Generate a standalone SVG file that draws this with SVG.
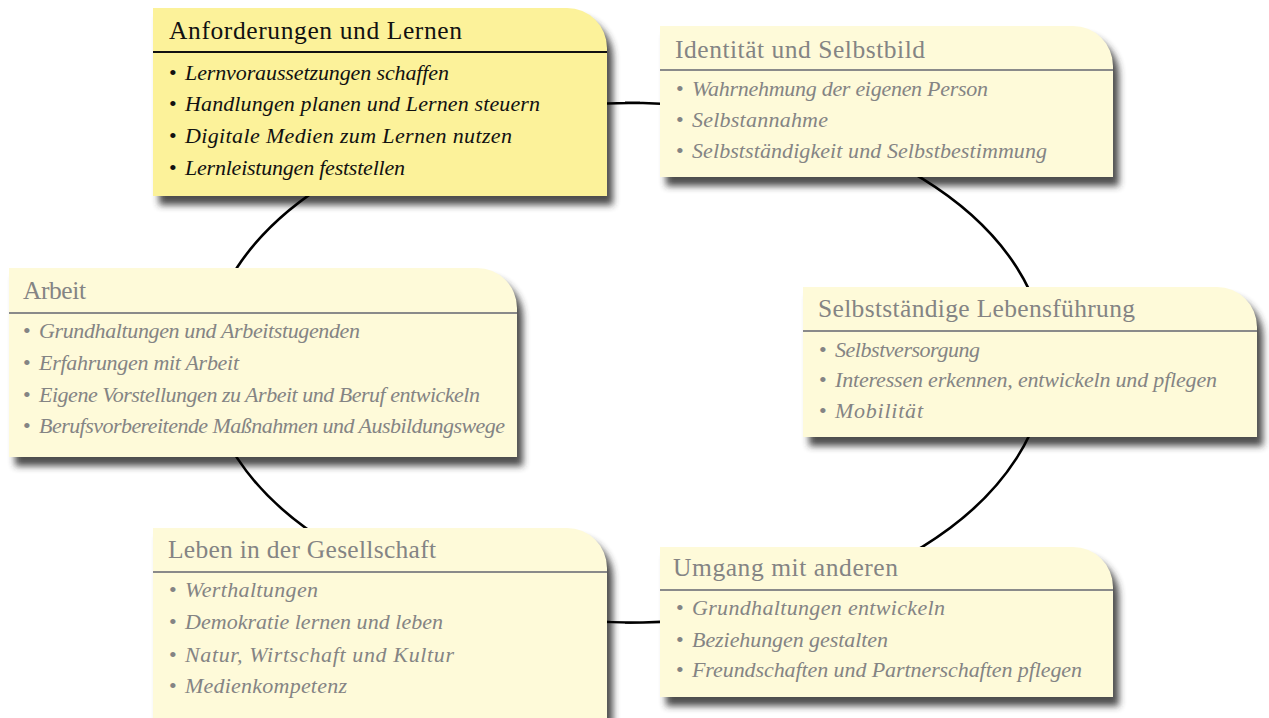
<svg xmlns="http://www.w3.org/2000/svg" width="1269" height="718" viewBox="0 0 1269 718">
<defs>
<filter id="blur" x="-10%" y="-20%" width="120%" height="140%">
<feGaussianBlur stdDeviation="3.5"/>
</filter>
<style>
.sh{fill:#2e2e2e;opacity:0.85;filter:url(#blur)}
.hot{fill:#fcf29a}
.cool{fill:#fefad9}
.title{font-family:"Liberation Serif","Times New Roman",serif;font-size:25.5px}
.item{font-family:"Liberation Serif","Times New Roman",serif;font-size:22px;font-style:italic}
.bul{font-family:"Liberation Serif","Times New Roman",serif;font-size:22px}
.dark{fill:#111}
.dim{fill:#848484}
.hlk{stroke:#111;stroke-width:2}
.hlg{stroke:#8a8a8a;stroke-width:2}
.conn{fill:none;stroke:#000;stroke-width:2.6}
</style>
</defs>
<rect width="1269" height="718" fill="#fff"/>
<g id="shadows">
<path class="sh" d="M159,17 H573 A40 40 0 0 1 613,57 V205 H159 Z"/>
<path class="sh" d="M666,35 H1079 A40 40 0 0 1 1119,75 V186 H666 Z"/>
<path class="sh" d="M15,277 H483 A40 40 0 0 1 523,317 V466 H15 Z"/>
<path class="sh" d="M809,296 H1223 A40 40 0 0 1 1263,336 V446 H809 Z"/>
<path class="sh" d="M159,537 H573 A40 40 0 0 1 613,577 V730 H159 Z"/>
<path class="sh" d="M666,556 H1079 A40 40 0 0 1 1119,596 V706 H666 Z"/>
</g>
<g id="connectors">
<path class="conn" d="M640,102.7 A433,260 0 0 0 640,622.7 L625,622.7 A421,260 0 0 0 625,102.7 Z"/>
</g>
<g id="node-anforderungen">
<path class="hot" d="M153,8 H567 A40 40 0 0 1 607,48 V196 H153 Z"/>
<line class="hlk" x1="153" y1="52" x2="607" y2="52"/>
<text class="title dark" x="169" y="39" textLength="293">Anforderungen und Lernen</text>
<text class="bul dark" x="169" y="80">•</text>
<text class="item dark" x="185" y="80" textLength="264">Lernvoraussetzungen schaffen</text>
<text class="bul dark" x="169" y="111">•</text>
<text class="item dark" x="185" y="111" textLength="355">Handlungen planen und Lernen steuern</text>
<text class="bul dark" x="169" y="143">•</text>
<text class="item dark" x="185" y="143" textLength="327">Digitale Medien zum Lernen nutzen</text>
<text class="bul dark" x="169" y="175">•</text>
<text class="item dark" x="185" y="175" textLength="220">Lernleistungen feststellen</text>
</g>
<g id="node-identitaet">
<path class="cool" d="M660,26 H1073 A40 40 0 0 1 1113,66 V177 H660 Z"/>
<line class="hlg" x1="660" y1="70" x2="1113" y2="70"/>
<text class="title dim" x="675" y="58" textLength="250">Identität und Selbstbild</text>
<text class="bul dim" x="676" y="96">•</text>
<text class="item dim" x="692" y="96" textLength="296">Wahrnehmung der eigenen Person</text>
<text class="bul dim" x="676" y="127">•</text>
<text class="item dim" x="692" y="127" textLength="136">Selbstannahme</text>
<text class="bul dim" x="676" y="158">•</text>
<text class="item dim" x="692" y="158" textLength="355">Selbstständigkeit und Selbstbestimmung</text>
</g>
<g id="node-arbeit">
<path class="cool" d="M9,268 H477 A40 40 0 0 1 517,308 V457 H9 Z"/>
<line class="hlg" x1="9" y1="313" x2="517" y2="313"/>
<text class="title dim" x="23" y="299" textLength="63">Arbeit</text>
<text class="bul dim" x="23" y="338">•</text>
<text class="item dim" x="39" y="338" textLength="321">Grundhaltungen und Arbeitstugenden</text>
<text class="bul dim" x="23" y="370">•</text>
<text class="item dim" x="39" y="370" textLength="200">Erfahrungen mit Arbeit</text>
<text class="bul dim" x="23" y="402">•</text>
<text class="item dim" x="39" y="402" textLength="441">Eigene Vorstellungen zu Arbeit und Beruf entwickeln</text>
<text class="bul dim" x="23" y="433">•</text>
<text class="item dim" x="39" y="433" textLength="466">Berufsvorbereitende Maßnahmen und Ausbildungswege</text>
</g>
<g id="node-lebensfuehrung">
<path class="cool" d="M803,287 H1217 A40 40 0 0 1 1257,327 V437 H803 Z"/>
<line class="hlg" x1="803" y1="331" x2="1257" y2="331"/>
<text class="title dim" x="818" y="317" textLength="317">Selbstständige Lebensführung</text>
<text class="bul dim" x="819" y="357">•</text>
<text class="item dim" x="835" y="357" textLength="145">Selbstversorgung</text>
<text class="bul dim" x="819" y="387">•</text>
<text class="item dim" x="835" y="387" textLength="382">Interessen erkennen, entwickeln und pflegen</text>
<text class="bul dim" x="819" y="418">•</text>
<text class="item dim" x="835" y="418" textLength="88">Mobilität</text>
</g>
<g id="node-gesellschaft">
<path class="cool" d="M153,528 H567 A40 40 0 0 1 607,568 V721 H153 Z"/>
<line class="hlg" x1="153" y1="572" x2="607" y2="572"/>
<text class="title dim" x="168" y="558" textLength="268">Leben in der Gesellschaft</text>
<text class="bul dim" x="169" y="597">•</text>
<text class="item dim" x="185" y="597" textLength="133">Werthaltungen</text>
<text class="bul dim" x="169" y="629">•</text>
<text class="item dim" x="185" y="629" textLength="258">Demokratie lernen und leben</text>
<text class="bul dim" x="169" y="662">•</text>
<text class="item dim" x="185" y="662" textLength="269">Natur, Wirtschaft und Kultur</text>
<text class="bul dim" x="169" y="693">•</text>
<text class="item dim" x="185" y="693" textLength="162">Medienkompetenz</text>
</g>
<g id="node-umgang">
<path class="cool" d="M660,547 H1073 A40 40 0 0 1 1113,587 V697 H660 Z"/>
<line class="hlg" x1="660" y1="590" x2="1113" y2="590"/>
<text class="title dim" x="673" y="576" textLength="225">Umgang mit anderen</text>
<text class="bul dim" x="676" y="615">•</text>
<text class="item dim" x="692" y="615" textLength="253">Grundhaltungen entwickeln</text>
<text class="bul dim" x="676" y="647">•</text>
<text class="item dim" x="692" y="647" textLength="196">Beziehungen gestalten</text>
<text class="bul dim" x="676" y="677">•</text>
<text class="item dim" x="692" y="677" textLength="390">Freundschaften und Partnerschaften pflegen</text>
</g>
</svg>
